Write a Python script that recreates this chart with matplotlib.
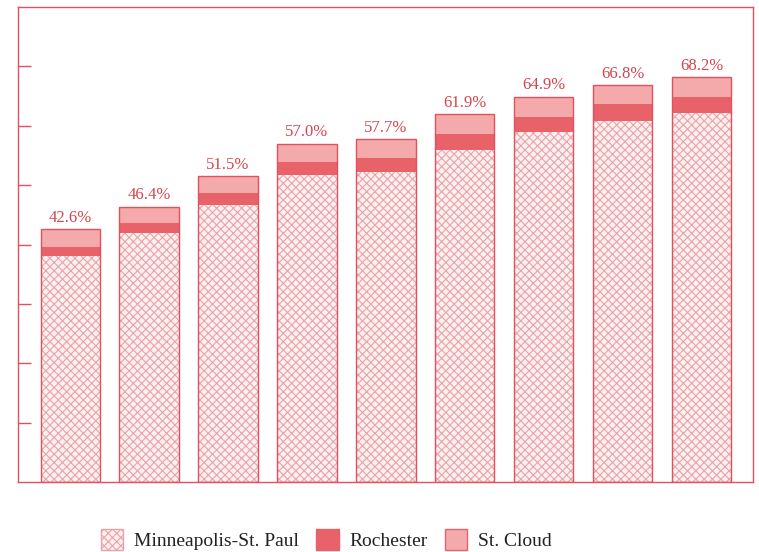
import numpy as np
import matplotlib.pyplot as plt
from matplotlib.patches import Patch

# shares per bar (percent)
msp = [38.0, 41.9, 46.7, 51.7, 52.2, 56.0, 58.9, 60.8, 62.1]
rochester = [1.5, 1.7, 2.0, 2.2, 2.3, 2.6, 2.5, 2.8, 2.7]
st_cloud = [3.1, 2.8, 2.8, 3.1, 3.2, 3.3, 3.5, 3.2, 3.4]
totals = ["42.6%", "46.4%", "51.5%", "57.0%", "57.7%", "61.9%", "64.9%", "66.8%", "68.2%"]
series_names = ["Minneapolis-St. Paul", "Rochester", "St. Cloud"]

red = "#e4505c"
roch_col = "#e8626a"
cloud_col = "#f4a9aa"
hatch_bg = "#fdf0ef"
hatch_col = "#e9a3aa"

plt.rcParams["font.family"] = ["Liberation Serif", "DejaVu Serif"]
plt.rcParams["hatch.linewidth"] = 0.8

fig = plt.figure(figsize=(7.59, 5.52), dpi=100)
ax = fig.add_axes([18 / 759, 1 - 482 / 552, 735 / 759, 475 / 552])

x = np.arange(len(msp))
w = 0.75
msp_a = np.array(msp)
roch_a = np.array(rochester)
cloud_a = np.array(st_cloud)
top = msp_a + roch_a + cloud_a

ax.bar(x, msp_a, w, color=hatch_bg, edgecolor=hatch_col, hatch="xxxx", linewidth=0)
ax.bar(x, roch_a, w, bottom=msp_a, color=roch_col, linewidth=0)
ax.bar(x, cloud_a, w, bottom=msp_a + roch_a, color=cloud_col, linewidth=0)
ax.bar(x, top, w, fill=False, edgecolor=red, linewidth=1.0)

for xi, t, lab in zip(x, top, totals):
    ax.text(xi, t + 0.6, lab, ha="center", va="bottom", fontsize=12, color="#d6434f")

ax.set_xlim(-0.66, 8.65)
ax.set_ylim(0, 80)
ax.set_yticks(np.arange(10, 80, 10))
ax.set_yticklabels([])
ax.set_xticks([])
ax.tick_params(axis="y", direction="in", length=9, color=red, width=1)
for s in ax.spines.values():
    s.set_color(red)
    s.set_linewidth(1.0)

handles = [
    Patch(facecolor=hatch_bg, edgecolor=hatch_col, hatch="xxxx", label=series_names[0]),
    Patch(facecolor=roch_col, edgecolor=roch_col, label=series_names[1]),
    Patch(facecolor=cloud_col, edgecolor=roch_col, label=series_names[2]),
]
fig.legend(handles=handles, loc="center", bbox_to_anchor=(0.43, 0.022), ncol=3,
           frameon=False, fontsize=14, handlelength=1.15, handleheight=1.3,
           columnspacing=0.9, handletextpad=0.55, labelcolor="#222222")

fig.savefig("out.png", dpi=100)
